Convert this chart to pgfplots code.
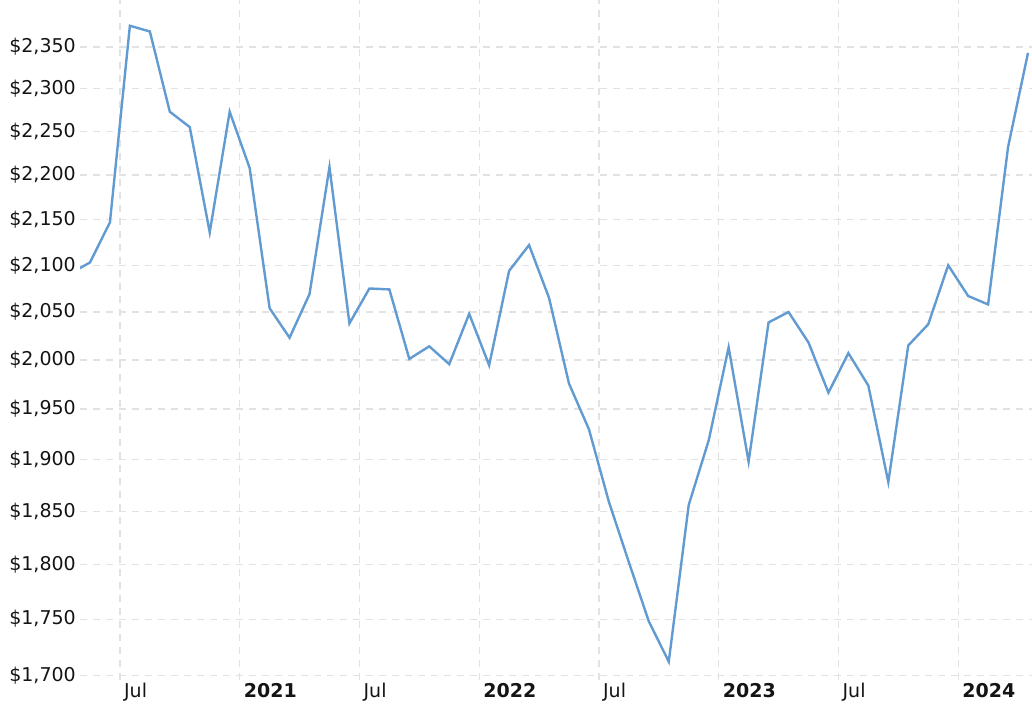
\documentclass[border=0pt]{standalone}
\usepackage{fontspec}
\setmainfont{DejaVu Sans}
\usepackage{pgfplots}
\pgfplotsset{compat=1.18}
\definecolor{lineblue}{RGB}{98,155,210}
\definecolor{gridgray}{RGB}{226,226,226}

\begin{document}
\begin{tikzpicture}
\useasboundingbox (-80pt,-45pt) rectangle (952pt,680pt);
\begin{axis}[
    scale only axis,
    width=952pt, height=680pt,
    ymode=log,
    xmin=4, xmax=51.7,
    ymin=1696, ymax=2408,
    axis line style={draw=none},
    major tick length=0pt,
    xtick={6,12,18,24,30,36,42,48},
    xticklabels={Jul,\textbf{2021},Jul,\textbf{2022},Jul,\textbf{2023},Jul,\textbf{2024}},
    ytick={1700,1750,1800,1850,1900,1950,2000,2050,2100,2150,2200,2250,2300,2350},
    yticklabels={{\$1,700},{\$1,750},{\$1,800},{\$1,850},{\$1,900},{\$1,950},{\$2,000},
                 {\$2,050},{\$2,100},{\$2,150},{\$2,200},{\$2,250},{\$2,300},{\$2,350}},
    grid=major,
    major grid style={gridgray, dash pattern=on 7pt off 6pt, line width=1.2pt},
    tick label style={font=\fontsize{19}{23}\selectfont, text=black!92},
    yticklabel style={inner xsep=4pt},
    xticklabel style={anchor=north west, inner xsep=4pt},
]
% monthly values, x = months since Jan 2020 (Jul 2020 = 6)
\addplot[color=lineblue, line width=2.4pt] coordinates {
    (3.5,2091)(4.5,2103)(5.5,2147)(6.5,2376)(7.5,2369)(8.5,2273)(9.5,2255)
    (10.5,2136)(11.5,2273)(12.5,2208)(13.5,2054)(14.5,2023)(15.5,2069)
    (16.5,2209)(17.5,2038)(18.5,2075)(19.5,2074)(20.5,2001)(21.5,2014)
    (22.5,1996)(23.5,2048)(24.5,1995)(25.5,2094)(26.5,2122)(27.5,2065)
    (28.5,1976)(29.5,1930)(30.5,1859)(31.5,1802)(32.5,1748)(33.5,1712)
    (34.5,1856)(35.5,1919)(36.5,2013)(37.5,1898)(38.5,2039)(39.5,2050)
    (40.5,2018)(41.5,1967)(42.5,2007)(43.5,1974)(44.5,1878)(45.5,2015)
    (46.5,2037)(47.5,2100)(48.5,2067)(49.5,2058)(50.5,2232)(51.5,2343)
};
\end{axis}
\end{tikzpicture}
\end{document}
